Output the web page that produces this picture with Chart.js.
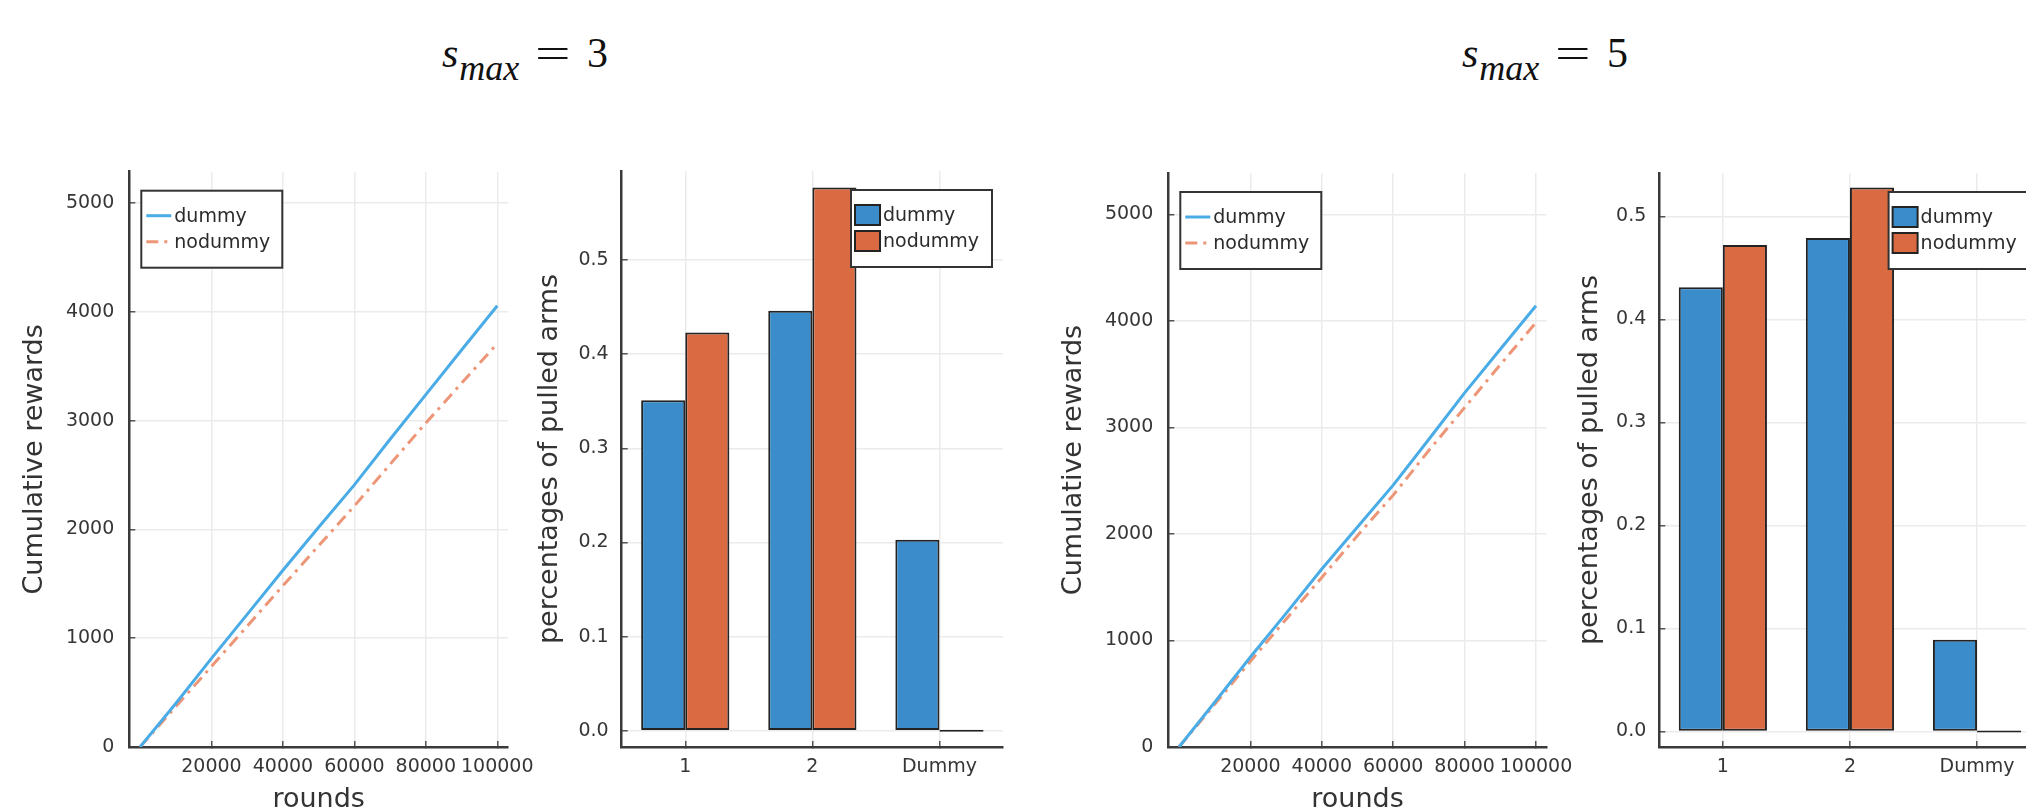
<!DOCTYPE html>
<html>
<head>
<meta charset="utf-8">
<script src="https://cdn.jsdelivr.net/npm/chart.js@4.4.1/dist/chart.umd.min.js"></script>
<style>
  html, body { margin: 0; padding: 0; background: #fff; overflow: hidden; }
  body { width: 2026px; height: 808px; position: relative; }
  canvas { position: absolute; }
  .title {
    position: absolute; top: 32px;
    font-family: 'Liberation Serif', 'Times New Roman', serif;
    font-size: 42px; line-height: 42px; color: #111; white-space: nowrap;
  }
  .title .s { font-style: italic; }
  .title .sub { font-style: italic; font-size: 36px; position: relative; top: 13px; margin-left: 1px; }
  .title .eq { display: inline-block; transform: scaleX(1.5); margin: 0 22px; }
</style>
</head>
<body>
<div class="title" style="left:442px"><span class="s">s</span><span class="sub">max</span><span class="eq">=</span>3</div>
<div class="title" style="left:1462px"><span class="s">s</span><span class="sub">max</span><span class="eq">=</span>5</div>

<canvas id="rewards3" width="560" height="680" style="left:0px;top:150px"></canvas>
<canvas id="arms3" width="520" height="658" style="left:520px;top:150px"></canvas>
<canvas id="rewards5" width="560" height="680" style="left:1040px;top:150px"></canvas>
<canvas id="arms5" width="520" height="658" style="left:1560px;top:150px"></canvas>

<script>
// data
const seriesNames = ['dummy', 'nodummy'];

const rounds = [1, 10000, 20000, 30000, 40000, 50000, 60000, 70000, 80000, 90000, 100000];
const roundTicks = [20000, 40000, 60000, 80000, 100000];
const rewardTicks = [0, 1000, 2000, 3000, 4000, 5000];

const rewardDummy3 = [0, 400, 815, 1220, 1625, 2020, 2410, 2830, 3240, 3650, 4057];
const rewardNodummy3 = [0, 370, 742, 1110, 1483, 1850, 2216, 2600, 2979, 3345, 3710];
const rewardDummy5 = [0, 420, 845, 1255, 1671, 2065, 2459, 2890, 3325, 3735, 4144];
const rewardNodummy5 = [0, 400, 805, 1200, 1592, 1985, 2365, 2785, 3187, 3590, 3986];

const arms = ['1', '2', 'Dummy'];
const shareTicks = [0, 0.1, 0.2, 0.3, 0.4, 0.5];

const shareDummy3 = [0.351, 0.446, 0.203];
const shareNodummy3 = [0.423, 0.577, 0];
const shareDummy5 = [0.431, 0.479, 0.089];
const shareNodummy5 = [0.472, 0.528, 0];

const FONT = "'DejaVu Sans', sans-serif";
const tickColor = '#363636';

// legend drawn inside the plot area with a frame, like the Plots.jl default
const boxLegend = {
  id: 'boxLegend',
  afterDraw(chart, args, opts) {
    const { ctx, chartArea: a } = chart;
    const w = 141, h = 77;
    const x = opts.side === 'right' ? a.right - 11 - w : a.left + 12;
    const y = a.top + 19;
    ctx.save();
    ctx.fillStyle = '#fff';
    ctx.fillRect(x, y, w, h);
    ctx.strokeStyle = '#333';
    ctx.lineWidth = 2;
    ctx.strokeRect(x, y, w, h);
    ctx.font = '19px ' + FONT;
    ctx.textBaseline = 'middle';
    chart.data.datasets.forEach((ds, i) => {
      const ry = y + 25 + i * 26;
      if (opts.kind === 'line') {
        ctx.strokeStyle = ds.borderColor;
        ctx.lineWidth = ds.borderWidth;
        ctx.setLineDash(ds.borderDash || []);
        ctx.beginPath();
        ctx.moveTo(x + 5, ry);
        ctx.lineTo(x + 30, ry);
        ctx.stroke();
        ctx.setLineDash([]);
      } else {
        ctx.fillStyle = ds.backgroundColor;
        ctx.fillRect(x + 4, ry - 10, 25, 20);
        ctx.strokeStyle = ds.borderColor;
        ctx.lineWidth = 2;
        ctx.strokeRect(x + 4, ry - 10, 25, 20);
      }
      ctx.fillStyle = '#2b2b2b';
      ctx.fillText(ds.label, x + (opts.kind === 'line' ? 33 : 32), ry + 1);
    });
    ctx.restore();
  }
};

const grid = { color: '#ebebeb', lineWidth: 1.5, drawTicks: true, tickLength: -6, tickColor: '#555', tickWidth: 1.5 };
const border = { display: true, color: '#3a3a3a', width: 2.5 };

// fixed axis sizes so the plot areas land where they are in the picture
const fixSize = (prop, size) => (s) => {
  s[prop] = size;
  s.paddingTop = 0; s.paddingBottom = 0; s.paddingLeft = 0; s.paddingRight = 0;
};

function lineChart(id, dummy, nodummy, yMax, box) {
  new Chart(document.getElementById(id), {
    type: 'line',
    data: {
      datasets: [
        {
          label: seriesNames[0],
          data: rounds.map((r, i) => ({ x: r, y: dummy[i] })),
          borderColor: '#4aace6', borderWidth: 3, pointRadius: 0,
        },
        {
          label: seriesNames[1],
          data: rounds.map((r, i) => ({ x: r, y: nodummy[i] })),
          borderColor: '#ed9677', borderWidth: 3, borderDash: [12, 6, 3, 6], pointRadius: 0,
        },
      ],
    },
    options: {
      responsive: false,
      animation: false,
      layout: { padding: { left: 0, top: box.top, right: box.right, bottom: 0 } },
      plugins: {
        legend: { display: false },
        tooltip: { enabled: false },
        boxLegend: { side: 'left', kind: 'line' },
      },
      scales: {
        x: {
          type: 'linear', min: -3000, max: 103000,
          afterBuildTicks: (s) => { s.ticks = roundTicks.map((v) => ({ value: v })); },
          afterFit: fixSize('height', box.xh),
          ticks: { callback: (v) => String(v), font: { family: FONT, size: 19 }, color: tickColor, padding: 15, maxRotation: 0, autoSkip: false },
          grid, border,
          title: { display: true, text: 'rounds', font: { family: FONT, size: 27 }, color: '#333', padding: { top: 0, bottom: 14 } },
        },
        y: {
          min: 0, max: yMax,
          afterBuildTicks: (s) => { s.ticks = rewardTicks.map((v) => ({ value: v })); },
          afterFit: fixSize('width', box.yw),
          ticks: { callback: (v) => String(v), font: { family: FONT, size: 19 }, color: tickColor, padding: 21 },
          grid, border,
          title: { display: true, text: 'Cumulative rewards', font: { family: FONT, size: 27 }, color: '#333', padding: { top: box.tp, bottom: 0 } },
        },
      },
    },
    plugins: [boxLegend],
  });
}

function barChart(id, dummy, nodummy, yMin, yMax, box) {
  new Chart(document.getElementById(id), {
    type: 'bar',
    data: {
      labels: arms,
      datasets: [
        {
          label: seriesNames[0], data: dummy,
          backgroundColor: '#3a8ccb', borderColor: '#232323', borderWidth: 2, borderSkipped: false, minBarLength: 2,
        },
        {
          label: seriesNames[1], data: nodummy,
          backgroundColor: '#d96a42', borderColor: '#232323', borderWidth: 2, borderSkipped: false, minBarLength: 2,
        },
      ],
    },
    options: {
      responsive: false,
      animation: false,
      datasets: { bar: { categoryPercentage: 0.694, barPercentage: 1 } },
      layout: { padding: { left: 0, top: box.top, right: box.right, bottom: 0 } },
      plugins: {
        legend: { display: false },
        tooltip: { enabled: false },
        boxLegend: { side: 'right', kind: 'patch' },
      },
      scales: {
        x: {
          afterFit: fixSize('height', box.xh),
          ticks: { font: { family: FONT, size: 19 }, color: tickColor, padding: 15, maxRotation: 0, autoSkip: false },
          grid: { ...grid, offset: false }, border,
        },
        y: {
          min: yMin, max: yMax,
          afterBuildTicks: (s) => { s.ticks = shareTicks.map((v) => ({ value: v })); },
          afterFit: fixSize('width', box.yw),
          ticks: { callback: (v) => v.toFixed(1), font: { family: FONT, size: 19 }, color: tickColor, padding: 19 },
          grid, border,
          title: { display: true, text: 'percentages of pulled arms', font: { family: FONT, size: 27 }, color: '#333', padding: { top: box.tp, bottom: 0 } },
        },
      },
    },
    plugins: [boxLegend],
  });
}

lineChart('rewards3', rewardDummy3, rewardNodummy3, 5290, { top: 21.7, right: 52, yw: 129.3, xh: 83, tp: 18.8 });
barChart('arms3', shareDummy3, shareNodummy3, -0.0172, 0.5945, { top: 21, right: 37, yw: 101.7, xh: 61, tp: 13.8 });
lineChart('rewards5', rewardDummy5, rewardNodummy5, 5390, { top: 23, right: 53.3, yw: 128.3, xh: 83, tp: 17.8 });
barChart('arms5', shareDummy5, shareNodummy5, -0.0151, 0.542, { top: 23, right: 39.4, yw: 99.3, xh: 61, tp: 13.8 });
</script>
</body>
</html>
